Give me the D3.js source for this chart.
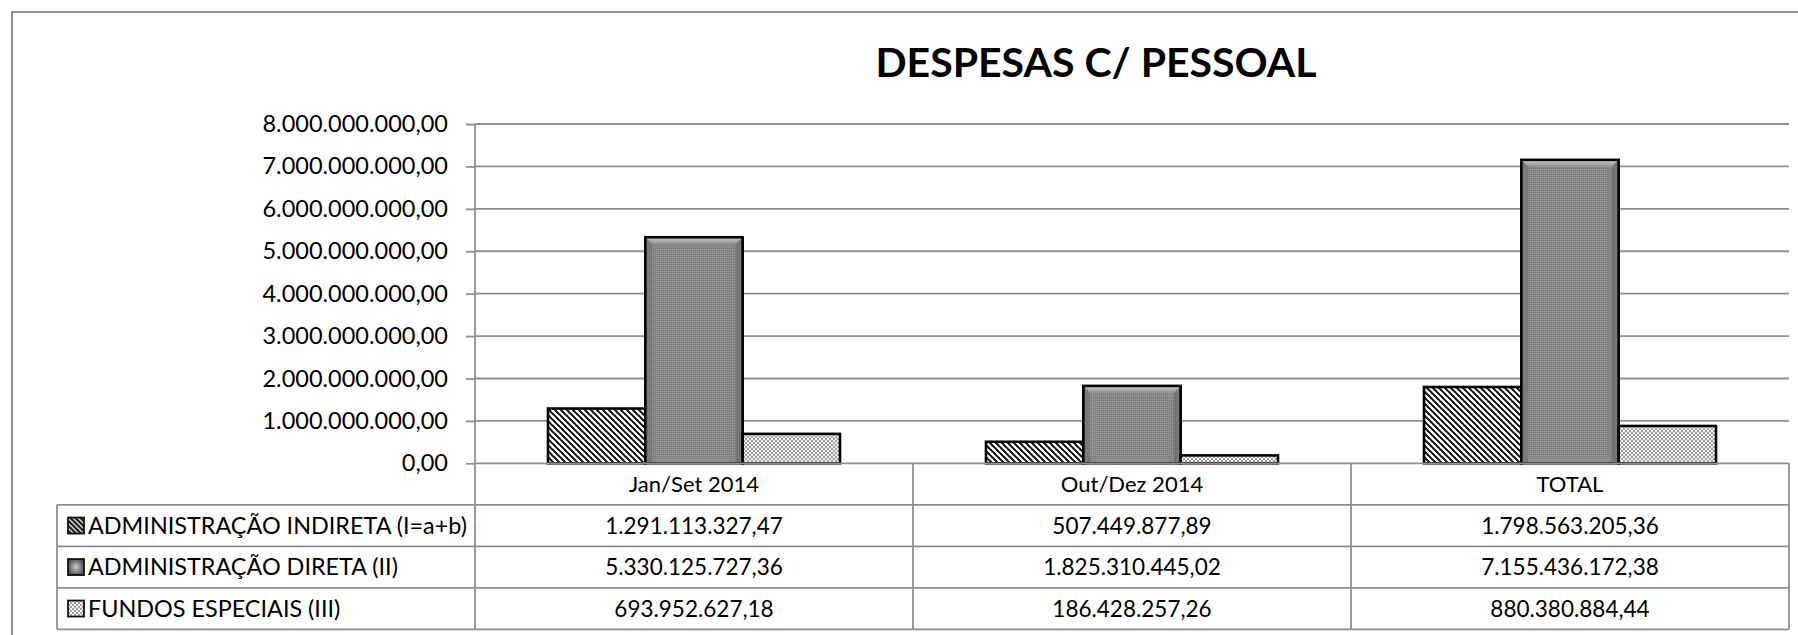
<!DOCTYPE html>
<html lang="pt">
<head>
  <meta charset="UTF-8" />
  <title>Despesas c/ Pessoal</title>
  <script src="https://d3js.org/d3.v7.min.js"></script>
  <style>
    body {
      margin: 0;
      background: #fff;
      overflow: hidden;
    }
    svg {
      display: block;
      font-family: Lato, "Open Sans", sans-serif;
    }
    .grid line {
      stroke: #8f8f8f;
      stroke-width: 1.8px;
    }
    .tbl line {
      stroke: #8f8f8f;
      stroke-width: 1.8px;
    }
    text {
      fill: #000;
    }
  </style>
</head>
<body>
  <svg width="1798" height="635"></svg>
  <script>
    const categories = ["Jan/Set 2014", "Out/Dez 2014", "TOTAL"];
    const seriesNames = ["ADMINISTRAÇÃO INDIRETA (I=a+b)", "ADMINISTRAÇÃO DIRETA (II)", "FUNDOS ESPECIAIS (III)"];
    const indireta = [1291113327.47, 507449877.89, 1798563205.36];
    const direta = [5330125727.36, 1825310445.02, 7155436172.38];
    const fundos = [693952627.18, 186428257.26, 880380884.44];
    const yTicks = [0, 1e9, 2e9, 3e9, 4e9, 5e9, 6e9, 7e9, 8e9];

    const series = [
      { key: "ind", name: seriesNames[0], values: indireta },
      { key: "dir", name: seriesNames[1], values: direta },
      { key: "fun", name: seriesNames[2], values: fundos }
    ];

    const br = d3.formatLocale({ decimal: ",", thousands: ".", grouping: [3], currency: ["R$", ""] });
    const fmt = br.format(",.2f");

    const svg = d3.select("svg");
    const plotLeft = 475, plotRight = 1789, plotTop = 124, plotBottom = 463.3;
    const tableLeft = 57, rowH = 41.5;

    const defs = svg.append("defs");

    // diagonal hatch
    const hatch = defs.append("pattern")
      .attr("id", "hatch").attr("patternUnits", "userSpaceOnUse")
      .attr("width", 6).attr("height", 6);
    hatch.append("rect").attr("width", 6).attr("height", 6).attr("fill", "#fff");
    hatch.append("path")
      .attr("d", "M-1,-1 L7,7 M-1,5 L1,7 M5,-1 L7,1")
      .attr("stroke", "#000").attr("stroke-width", 1.9);

    // small key hatch (dark with light stripes)
    const keyHatch = defs.append("pattern")
      .attr("id", "keyHatch").attr("patternUnits", "userSpaceOnUse")
      .attr("width", 5).attr("height", 5);
    keyHatch.append("rect").attr("width", 5).attr("height", 5).attr("fill", "#222");
    keyHatch.append("path")
      .attr("d", "M-1,-1 L6,6 M-1,4 L1,6 M4,-1 L6,1")
      .attr("stroke", "#ddd").attr("stroke-width", 1.3);

    // fine dotted gray
    const dots = defs.append("pattern")
      .attr("id", "dots").attr("patternUnits", "userSpaceOnUse")
      .attr("width", 2).attr("height", 2);
    dots.append("rect").attr("width", 2).attr("height", 2).attr("fill", "#8a8a8a");
    dots.append("rect").attr("width", 1).attr("height", 1).attr("fill", "#7c7c7c");
    dots.append("rect").attr("x", 1).attr("y", 1).attr("width", 1).attr("height", 1).attr("fill", "#959595");

    // checkerboard
    const check = defs.append("pattern")
      .attr("id", "check").attr("patternUnits", "userSpaceOnUse")
      .attr("width", 4).attr("height", 4);
    check.append("rect").attr("width", 4).attr("height", 4).attr("fill", "#f2f2f2");
    check.append("rect").attr("width", 2).attr("height", 2).attr("fill", "#a0a0a0");
    check.append("rect").attr("x", 2).attr("y", 2).attr("width", 2).attr("height", 2).attr("fill", "#a0a0a0");

    const topGrad = defs.append("linearGradient").attr("id", "topGrad")
      .attr("x1", 0).attr("y1", 0).attr("x2", 0).attr("y2", 1);
    topGrad.append("stop").attr("offset", "0%").attr("stop-color", "#cfcfcf");
    topGrad.append("stop").attr("offset", "100%").attr("stop-color", "#8e8e8e");

    const keyGrad = defs.append("radialGradient").attr("id", "keyGrad");
    keyGrad.append("stop").attr("offset", "0%").attr("stop-color", "#c8c8c8");
    keyGrad.append("stop").attr("offset", "100%").attr("stop-color", "#555");

    const fills = { ind: "url(#hatch)", dir: "url(#dots)", fun: "url(#check)" };
    const keyFills = { ind: "url(#keyHatch)", dir: "url(#keyGrad)", fun: "url(#check)" };

    // outer border
    svg.append("path")
      .attr("d", "M12,635 V12 H1798")
      .attr("fill", "none").attr("stroke", "#8f8f8f").attr("stroke-width", 2);

    // title
    svg.append("text")
      .attr("x", 1096).attr("y", 77)
      .attr("text-anchor", "middle")
      .attr("font-weight", 700).attr("font-size", 41)
      .text("DESPESAS C/ PESSOAL");

    const y = d3.scaleLinear().domain([0, 8e9]).range([plotBottom, plotTop]);
    const x = d3.scaleBand().domain(categories).range([plotLeft, plotRight]);
    const x1 = d3.scaleBand().domain(series.map(s => s.key))
      .range([0, x.bandwidth()]).paddingInner(0).paddingOuter(0.75);

    // gridlines
    svg.append("g").attr("class", "grid")
      .selectAll("line").data(yTicks.slice(1)).join("line")
      .attr("x1", plotLeft).attr("x2", plotRight)
      .attr("y1", d => y(d)).attr("y2", d => y(d));

    // y axis
    const yAxis = svg.append("g")
      .attr("transform", `translate(${plotLeft},0)`)
      .call(d3.axisLeft(y).tickValues(yTicks).tickFormat(fmt).tickSize(9).tickPadding(18));
    yAxis.select(".domain").remove();
    yAxis.selectAll(".tick line").attr("stroke", "#8f8f8f").attr("stroke-width", 1.8);
    yAxis.selectAll(".tick text")
      .attr("font-family", "Lato, sans-serif").attr("font-size", 23.5).attr("fill", "#000");

    // bars
    const groups = svg.append("g").selectAll("g")
      .data(categories).join("g")
      .attr("transform", d => `translate(${x(d)},0)`);

    groups.each(function (cat, ci) {
      const g = d3.select(this);
      series.forEach(s => {
        const bx = x1(s.key), bw = x1.bandwidth();
        const by = y(s.values[ci]), bh = plotBottom - by;
        g.append("rect")
          .attr("x", bx).attr("y", by).attr("width", bw).attr("height", bh)
          .attr("fill", fills[s.key]);
        if (s.key === "dir") {
          const b = Math.min(7, bh / 2);
          g.append("polygon")
            .attr("points", [[bx, by], [bx + bw, by], [bx + bw - b, by + b], [bx + b, by + b]].join(" "))
            .attr("fill", "url(#topGrad)");
          g.append("polygon")
            .attr("points", [[bx, by], [bx + b, by + b], [bx + b, plotBottom], [bx, plotBottom]].join(" "))
            .attr("fill", "#5e5e5e").attr("opacity", 0.35);
          g.append("polygon")
            .attr("points", [[bx + bw, by], [bx + bw - b, by + b], [bx + bw - b, plotBottom], [bx + bw, plotBottom]].join(" "))
            .attr("fill", "#5e5e5e").attr("opacity", 0.45);
        }
        g.append("rect")
          .attr("x", bx).attr("y", by).attr("width", bw).attr("height", bh)
          .attr("fill", "none").attr("stroke", "#000").attr("stroke-width", 2.6);
      });
    });

    // data table
    const tbl = svg.append("g").attr("class", "tbl");
    const rowsY = [plotBottom, plotBottom + rowH, plotBottom + 2 * rowH, plotBottom + 3 * rowH, plotBottom + 4 * rowH];
    tbl.append("line").attr("x1", plotLeft).attr("x2", plotRight).attr("y1", rowsY[0]).attr("y2", rowsY[0]);
    rowsY.slice(1).forEach(ry => {
      tbl.append("line").attr("x1", tableLeft).attr("x2", plotRight).attr("y1", ry).attr("y2", ry);
    });
    tbl.append("line").attr("x1", tableLeft).attr("x2", tableLeft).attr("y1", rowsY[1]).attr("y2", rowsY[4]);
    tbl.append("line").attr("x1", plotLeft).attr("x2", plotLeft).attr("y1", plotTop).attr("y2", rowsY[4]);
    categories.forEach(c => {
      const xr = x(c) + x.bandwidth();
      tbl.append("line").attr("x1", xr).attr("x2", xr).attr("y1", rowsY[0]).attr("y2", rowsY[4]);
    });

    // header labels
    svg.append("g").selectAll("text").data(categories).join("text")
      .attr("x", d => x(d) + x.bandwidth() / 2)
      .attr("y", (rowsY[0] + rowsY[1]) / 2)
      .attr("dy", "0.36em")
      .attr("text-anchor", "middle").attr("font-size", 22)
      .text(d => d);

    // series rows
    series.forEach((s, i) => {
      const cy = (rowsY[i + 1] + rowsY[i + 2]) / 2;
      svg.append("rect")
        .attr("x", 68).attr("y", cy - 8).attr("width", 16).attr("height", 16)
        .attr("fill", keyFills[s.key]).attr("stroke", "#111").attr("stroke-width", 1.8);
      svg.append("text")
        .attr("x", 88).attr("y", cy).attr("dy", "0.36em")
        .attr("font-size", 23.4)
        .text(s.name);
      svg.append("g").selectAll("text").data(s.values).join("text")
        .attr("x", (d, ci) => x(categories[ci]) + x.bandwidth() / 2)
        .attr("y", cy).attr("dy", "0.36em")
        .attr("text-anchor", "middle").attr("font-size", 22.5)
        .text(d => fmt(d));
    });
  </script>
</body>
</html>
